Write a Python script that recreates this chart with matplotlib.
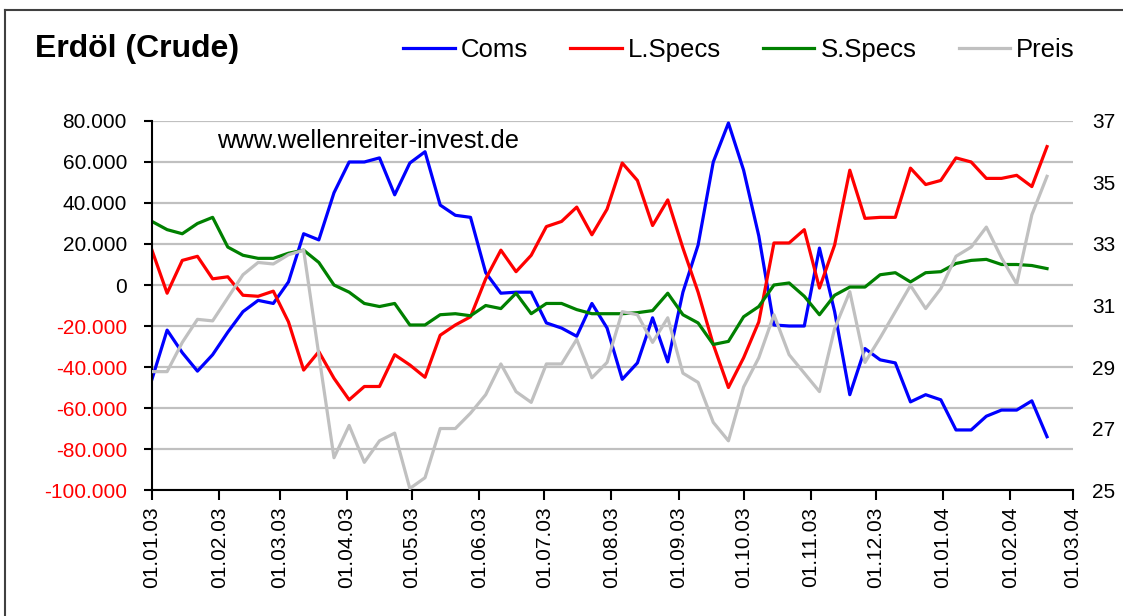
import pandas as pd
import matplotlib
matplotlib.use("Agg")
import matplotlib.pyplot as plt
import matplotlib.dates as mdates
from matplotlib.lines import Line2D
from matplotlib.ticker import FuncFormatter, MultipleLocator, FixedLocator

plt.rcParams["font.family"] = ["Liberation Sans", "DejaVu Sans"]

# weekly COT data, crude oil, Jan 2003 - Feb 2004
dates = pd.date_range("2003-01-01", periods=60, freq="7D")

coms = [-46000, -22000, -33000, -42000, -34000, -23000, -13000, -7500, -9000, 1500,
        25000, 22000, 45000, 60000, 60000, 62000, 44000, 59500, 65000, 39000,
        34000, 33000, 6000, -4000, -3500, -3500, -18500, -21000, -25000, -9000,
        -21000, -46000, -38000, -16000, -37500, -3500, 19500, 60000, 79000, 56000,
        24000, -19500, -20000, -20000, 18000, -13000, -53500, -31000, -36500, -38000,
        -57000, -53500, -56000, -70700, -70700, -64000, -61000, -61000, -56500, -74000]

lspecs = [17000, -4000, 12000, 14000, 3000, 4000, -5000, -5500, -3000, -18000,
          -41500, -32500, -45500, -56000, -49500, -49500, -34000, -39000, -45000, -24500,
          -19500, -15500, 3000, 17000, 6500, 14500, 28500, 31000, 38000, 24500,
          37000, 59500, 51000, 29000, 41500, 18000, -3500, -29000, -50000, -35500,
          -18000, 20500, 20500, 27000, -1500, 19500, 56000, 32500, 33000, 33000,
          57000, 49000, 51000, 62000, 60000, 52000, 52000, 53500, 48000, 67500]

sspecs = [31000, 27000, 25000, 30000, 33000, 18500, 14500, 13000, 13000, 15500,
          17000, 11000, 0, -3500, -9000, -10500, -9000, -19500, -19500, -14500,
          -14000, -15000, -10000, -11500, -4000, -14000, -9000, -9000, -12000, -14000,
          -14000, -14000, -13500, -12500, -4000, -14500, -18500, -29000, -27500, -15500,
          -10500, 0, 1000, -5500, -14500, -5000, -1000, -1000, 5000, 6000,
          1500, 6000, 6500, 10500, 12000, 12500, 10000, 10000, 9500, 8000]

preis = [28.85, 28.85, 29.8, 30.55, 30.5, 31.25, 32.0, 32.4, 32.35, 32.65,
         32.8, 29.4, 26.05, 27.1, 25.9, 26.6, 26.85, 25.05, 25.4, 27.0,
         27.0, 27.5, 28.1, 29.1, 28.2, 27.85, 29.1, 29.1, 29.9, 28.65,
         29.15, 30.8, 30.7, 29.8, 30.6, 28.8, 28.5, 27.2, 26.6, 28.35,
         29.3, 30.7, 29.4, 28.8, 28.2, 30.25, 31.45, 29.15, 29.95, 30.8,
         31.65, 30.9, 31.55, 32.6, 32.9, 33.55, 32.55, 31.7, 33.95, 35.2]

preis_ticks = [25, 27, 29, 31, 33, 35, 37]

fig = plt.figure(figsize=(11.23, 6.16), dpi=100)
ax = fig.add_axes([0.1353, 0.2045, 0.8202, 0.5991])
ax2 = ax.twinx()

grid_c = "#C0C0C0"
for v in range(-100000, 80001, 20000):
    ax.axhline(v, color=grid_c, lw=1.6, zorder=0)

l1, = ax.plot(dates, coms, color="#0000FF", lw=2.3, label="Coms")
l2, = ax.plot(dates, lspecs, color="#FF0000", lw=2.3, label="L.Specs")
l3, = ax.plot(dates, sspecs, color="#008000", lw=2.3, label="S.Specs")
l4, = ax2.plot(dates, preis, color="#C0C0C0", lw=2.3, label="Preis")

ax.set_xlim(pd.Timestamp("2003-01-01"), pd.Timestamp("2004-03-01"))
ax.set_ylim(-100000, 80000)
ax2.set_ylim(25, 37)

ax.yaxis.set_major_locator(MultipleLocator(20000))
ax.yaxis.set_major_formatter(FuncFormatter(lambda v, p: f"{int(v):,}".replace(",", ".")))
ax2.yaxis.set_major_locator(FixedLocator(preis_ticks))
ax2.yaxis.set_major_formatter(FuncFormatter(lambda v, p: f"{int(v)}"))

ax.xaxis.set_major_locator(mdates.MonthLocator())
ax.xaxis.set_major_formatter(mdates.DateFormatter("%d.%m.%y"))

ax.tick_params(axis="y", direction="out", length=6, width=1.5, labelsize=15, pad=12)
ax.tick_params(axis="x", direction="out", length=7, width=1.5, labelsize=15, pad=5,
               labelrotation=90)
ax2.tick_params(axis="y", length=0, labelsize=15, pad=14)

fig.canvas.draw()
for lab in ax.get_yticklabels():
    txt = lab.get_text().replace("\u2212", "-")
    if txt.startswith("-"):
        lab.set_color("#FF0000")

for s in ["top", "right"]:
    ax.spines[s].set_visible(False)
for s in ["top", "right", "left", "bottom"]:
    ax2.spines[s].set_visible(False)
ax.spines["left"].set_linewidth(1.5)
ax.spines["bottom"].set_linewidth(1.5)

fig.text(35 / 1123, 1 - 49 / 616, "Erdöl (Crude)", fontsize=23, fontweight="bold",
         va="center", ha="left")
fig.text(217 / 1123, 1 - 141 / 616, "www.wellenreiter-invest.de", fontsize=18.4,
         va="center", ha="left")

fig.legend(handles=[l1, l2, l3, l4], loc="center left", ncol=4, frameon=False,
           bbox_to_anchor=(393 / 1123, 1 - 50 / 616), fontsize=18.5,
           handlelength=2.0, handletextpad=0.23, columnspacing=1.65, borderaxespad=0)

# outer chart frame (cropped at the right and bottom)
fig.add_artist(Line2D([5 / 1123, 5 / 1123], [0, 1 - 10 / 616], color="#404040", lw=1.5))
fig.add_artist(Line2D([5 / 1123, 1], [1 - 10 / 616, 1 - 10 / 616], color="#404040", lw=1.5))

fig.savefig("out.png", dpi=100)
